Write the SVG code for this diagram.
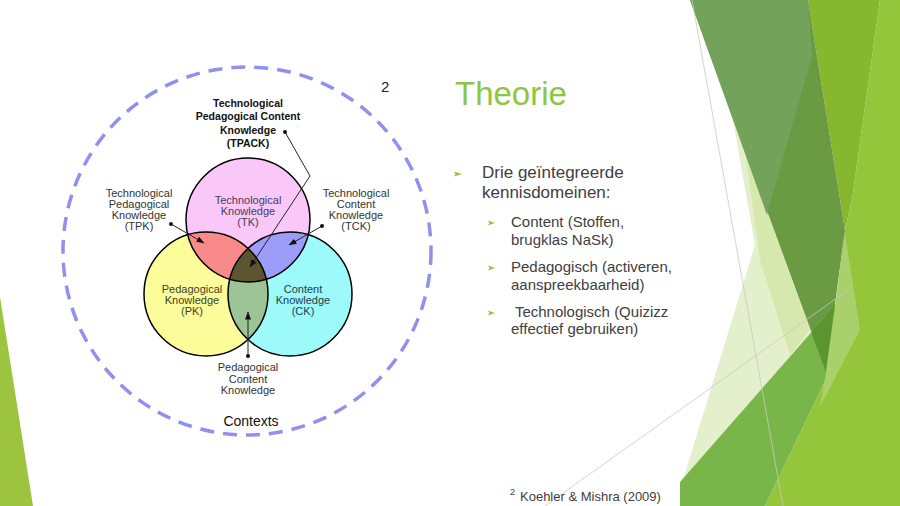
<svg xmlns="http://www.w3.org/2000/svg" width="900" height="506" viewBox="0 0 900 506">
<defs>
<style>
.lbl{font-family:"Liberation Sans",Arial,sans-serif;font-size:11px;fill:#333;text-anchor:middle}
.bold{font-weight:bold;font-size:10.5px;fill:#111}
.ring{fill:none;stroke:#000;stroke-width:1.5}
.con{fill:none;stroke:#222;stroke-width:1}
.dot{fill:#111}
.body{font-family:"Liberation Sans","Open Sans",Arial,sans-serif;fill:#404040}
.bul{fill:#8dc63f}
.faint{stroke:#c8c8c8;stroke-width:0.8;fill:none}
</style>
<marker id="ah" viewBox="0 0 8 6" refX="7.5" refY="3" markerWidth="8" markerHeight="6" markerUnits="userSpaceOnUse" orient="auto">
<path d="M0,0 L8,3 L0,6 z" fill="#111"/>
</marker>
<clipPath id="cTK"><circle cx="248" cy="220" r="62"/></clipPath>
<clipPath id="cPK"><circle cx="206" cy="294" r="62"/></clipPath>
<clipPath id="cCK"><circle cx="290" cy="294" r="62"/></clipPath>
</defs>
<rect width="900" height="506" fill="#ffffff"/>

<!-- background decoration -->
<g id="decor">
<polygon points="0,297 33,506 0,506" fill="#9dc43f"/>
<polygon points="852,200 880,0 900,0 900,506 765,506 827,377 845,230" fill="#95c53b"/>
<polygon points="808,0 880,0 852,200 845,230" fill="#87b62f"/>
<polygon points="733,120 826,372 680,506 680,490 755,245" fill="#e4efcc"/>
<polygon points="745,150 810,330 790,355 760,260" fill="#d6e8ad"/>
<polygon points="680,482 838,302 827,377 765,506 680,506" fill="#79b64a"/>
<polygon points="690,0 808,0 845,230 826,372" fill="#6a9b42"/>
<polygon points="690,0 808,0 812,55 767,215" fill="#73a25a"/>
<polygon points="811.5,332.4 834.9,305.8 826,372" fill="#5a9530"/>
<polygon points="845,233 860,330 820,407 826,372" fill="#a9d06a"/>
<line class="faint" x1="692" y1="0" x2="783" y2="506"/>
<line class="faint" x1="545" y1="506" x2="848" y2="290"/>
</g>

<!-- contexts ring -->
<g id="contexts">
<circle cx="247" cy="251" r="184" fill="none" stroke="#9090f0" stroke-width="3.5" stroke-dasharray="14 9"/>
<text class="lbl" x="251" y="426" style="font-size:14px;fill:#111">Contexts</text>
</g>

<!-- Venn fills -->
<g id="venn">
<circle cx="206" cy="294" r="62" fill="#fcfc9a"/>
<circle cx="290" cy="294" r="62" fill="#9cfafa"/>
<circle cx="248" cy="220" r="62" fill="#f9c8f9"/>
<g clip-path="url(#cTK)"><circle cx="206" cy="294" r="62" fill="#f98a8a"/></g>
<g clip-path="url(#cTK)"><circle cx="290" cy="294" r="62" fill="#9c9cf9"/></g>
<g clip-path="url(#cPK)"><circle cx="290" cy="294" r="62" fill="#9cc494"/></g>
<g clip-path="url(#cTK)"><g clip-path="url(#cPK)"><circle cx="290" cy="294" r="62" fill="#5c5530"/></g></g>
</g>

<g id="tk">
<circle class="ring" cx="248" cy="220" r="62"/>
<text class="lbl" x="248" y="203.5" style="fill:#4a3a55">Technological</text>
<text class="lbl" x="248" y="215" style="fill:#4a3a55">Knowledge</text>
<text class="lbl" x="248" y="226" style="fill:#4a3a55">(TK)</text>
</g>
<g id="pk">
<circle class="ring" cx="206" cy="294" r="62"/>
<text class="lbl" x="192" y="293" style="fill:#3f3f25">Pedagogical</text>
<text class="lbl" x="192" y="304" style="fill:#3f3f25">Knowledge</text>
<text class="lbl" x="192" y="314.5" style="fill:#3f3f25">(PK)</text>
</g>
<g id="ck">
<circle class="ring" cx="290" cy="294" r="62"/>
<text class="lbl" x="303" y="293" style="fill:#23404a">Content</text>
<text class="lbl" x="303" y="304" style="fill:#23404a">Knowledge</text>
<text class="lbl" x="303" y="314.5" style="fill:#23404a">(CK)</text>
</g>

<g id="tpack">
<text class="lbl bold" x="248" y="106.5">Technological</text>
<text class="lbl bold" x="248" y="120">Pedagogical Content</text>
<text class="lbl bold" x="248" y="134">Knowledge</text>
<text class="lbl bold" x="248" y="147">(TPACK)</text>
</g>
<g id="tpk">
<text class="lbl" x="139" y="197">Technological</text>
<text class="lbl" x="139" y="208">Pedagogical</text>
<text class="lbl" x="139" y="219">Knowledge</text>
<text class="lbl" x="139" y="230">(TPK)</text>
</g>
<g id="tck">
<text class="lbl" x="356" y="197">Technological</text>
<text class="lbl" x="356" y="208">Content</text>
<text class="lbl" x="356" y="219">Knowledge</text>
<text class="lbl" x="356" y="230">(TCK)</text>
</g>
<g id="pck">
<text class="lbl" x="248" y="371">Pedagogical</text>
<text class="lbl" x="248" y="382.5">Content</text>
<text class="lbl" x="248" y="393.5">Knowledge</text>
</g>

<!-- connectors -->
<g id="connectors">
<polyline class="con" points="285,132 310,176 250,267" marker-end="url(#ah)"/>
<circle class="dot" cx="285" cy="132" r="2"/>
<line class="con" x1="171" y1="224" x2="204" y2="243" marker-end="url(#ah)"/>
<circle class="dot" cx="171" cy="224" r="2"/>
<line class="con" x1="322" y1="226" x2="289" y2="245" marker-end="url(#ah)"/>
<circle class="dot" cx="322" cy="226" r="2"/>
<line class="con" x1="248" y1="356" x2="248" y2="312" marker-end="url(#ah)"/>
<circle class="dot" cx="248" cy="356" r="2"/>
</g>

<text class="body" x="381" y="92" style="font-size:15px;fill:#222">2</text>

<!-- slide text -->
<g id="title">
<text class="body" x="455" y="105" style="font-size:33px;fill:#8dc63f">Theorie</text>
</g>
<g id="bullets">
<polygon class="bul" points="454,171.5 462,174 454,176.5 455.5,174"/>
<text class="body" x="482" y="178" style="font-size:17px">Drie geïntegreerde</text>
<text class="body" x="482" y="198" style="font-size:17px">kennisdomeinen:</text>
<polygon class="bul" points="488,220.5 495,223 488,225.5 489.5,223"/>
<text class="body" x="511" y="227" style="font-size:15px">Content (Stoffen,</text>
<text class="body" x="511" y="245" style="font-size:15px">brugklas NaSk)</text>
<polygon class="bul" points="488,265.5 495,268 488,270.5 489.5,268"/>
<text class="body" x="511" y="272" style="font-size:15px">Pedagogisch (activeren,</text>
<text class="body" x="511" y="290" style="font-size:15px">aanspreekbaarheid)</text>
<polygon class="bul" points="488,310.5 495,313 488,315.5 489.5,313"/>
<text class="body" x="511" y="317" style="font-size:15px;white-space:pre" xml:space="preserve"> Technologisch (Quizizz</text>
<text class="body" x="511" y="334" style="font-size:15px">effectief gebruiken)</text>
</g>
<g id="footnote">
<text class="body" x="510" y="495" style="font-size:9px">2</text>
<text class="body" x="520" y="501" style="font-size:13px">Koehler &amp; Mishra (2009)</text>
</g>
</svg>
